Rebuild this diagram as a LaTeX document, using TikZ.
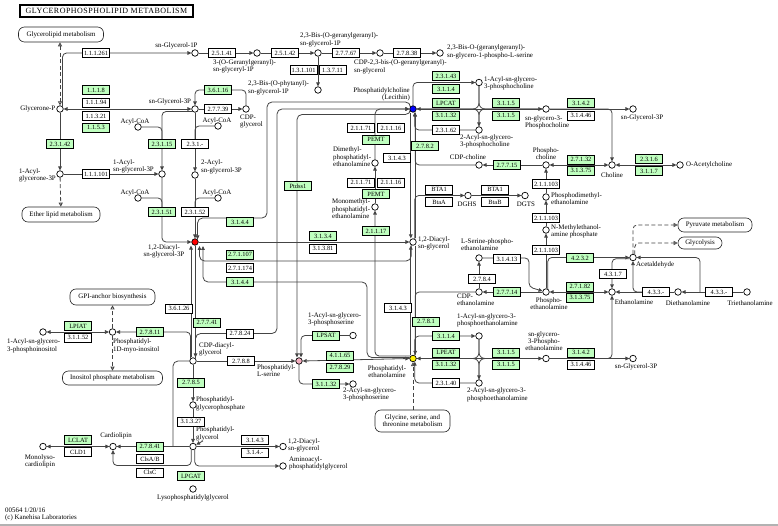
\documentclass[tikz,border=0pt]{standalone}
\usepackage{fontspec}
\setmainfont{Liberation Serif}
\usetikzlibrary{arrows.meta}
\definecolor{kg}{HTML}{BFFFBF}
\definecolor{kl}{HTML}{444444}
\definecolor{kpink}{HTML}{F4AFC0}
\newcommand\ecfont{\fontsize{6.4}{6.4}\selectfont}
\newcommand\lbfont{\fontsize{6.9}{7.2}\selectfont}
\newcommand\ttlfont{\fontsize{8}{8}\selectfont\addfontfeature{LetterSpace=6}}
\pgfdeclarelayer{bg}
\pgfsetlayers{bg,main}
\tikzset{
 ec/.style={draw=black, line width=0.6pt, fill=white, minimum width=27pt, minimum height=9pt, inner sep=0pt, font=\ecfont},
 eg/.style={ec, fill=kg},
 cpd/.style={circle, draw=black, line width=0.7pt, fill=white, minimum size=6.5pt, inner sep=0pt},
 lb/.style={font=\lbfont, inner sep=0pt, align=center},
 lbl/.style={lb, align=left},
 lbr/.style={lb, align=right},
 mapbox/.style={draw=black!85, line width=0.6pt, rounded corners=6pt, fill=white, font=\lbfont, inner sep=0pt, align=center},
 ln/.style={draw=kl, line width=0.8pt},
 ar/.style={-{Triangle[length=4pt,width=3.6pt]}},
 ar2/.style={{Triangle[length=4pt,width=3.6pt]}-{Triangle[length=4pt,width=3.6pt]}},
 oar/.style={-{Triangle[open,length=4pt,width=4pt]}},
 oar2/.style={{Triangle[open,length=4pt,width=4pt]}-{Triangle[open,length=4pt,width=4pt]}},
 dsh/.style={ln, dash pattern=on 4pt off 2.5pt},
 rc/.style={rounded corners=4pt},
}
\begin{document}
\begin{tikzpicture}[x=1pt,y=-1pt]
\useasboundingbox (0,0) rectangle (778,526);

% ---------------- title and map boxes
\node[draw, line width=1.1pt, minimum width=173pt, minimum height=12pt, inner sep=0pt, font=\ttlfont] (title) at (106.5,11) {GLYCEROPHOSPHOLIPID METABOLISM};
\node[mapbox, minimum width=85pt, minimum height=15pt] (glmap) at (61,34.5) {Glycerolipid metabolism};
\node[mapbox, minimum width=78pt, minimum height=15pt] (ethmap) at (61,214.5) {Ether lipid metabolism};
\node[mapbox, minimum width=85pt, minimum height=16pt] (gpimap) at (112.5,297) {GPI-anchor biosynthesis};
\node[mapbox, minimum width=100pt, minimum height=14pt] (inomap) at (112.5,378) {Inositol phosphate metabolism};
\node[mapbox, minimum width=75pt, minimum height=22pt] (glymap) at (412.5,421) {Glycine, serine, and\\threonine metabolism};
\node[mapbox, minimum width=74pt, minimum height=14pt] (pyrmap) at (715,225) {Pyruvate metabolism};
\node[mapbox, minimum width=44pt, minimum height=12pt] (glcmap) at (700,243) {Glycolysis};

% ---------------- compounds
\node[cpd] (glyP) at (60,109) {};
\node[cpd] (sng1p) at (195,53) {};
\node[cpd] (ggg1p) at (257,53) {};
\node[cpd] (bgg) at (318,53) {};
\node[cpd] (bph) at (318,90) {};
\node[cpd] (cdpgg) at (380,53) {};
\node[cpd] (ggs) at (440,53) {};
\node[cpd] (sng3p) at (195,109) {};
\node[cpd] (cdpgly) at (246,109) {};
\node[cpd] (acoa1) at (138,127) {};
\node[cpd] (acoa2) at (218,126) {};
\node[cpd] (acyl1) at (60,174) {};
\node[cpd] (acylg3p) at (162,174) {};
\node[cpd] (acyl2g3p) at (195,175) {};
\node[cpd] (acoa3) at (138,198) {};
\node[cpd] (acoa4) at (218,198) {};
\node[cpd, fill=red] (pa) at (195,242) {};
\node[cpd] (cdpdag) at (193,361) {};
\node[cpd] (pgp) at (193,405) {};
\node[cpd] (pg) at (193,446.5) {};
\node[cpd] (lpg) at (193,489) {};
\node[cpd] (cl) at (113,446.5) {};
\node[cpd] (mlcl) at (43,446.5) {};
\node[cpd] (ptdins) at (112.5,332) {};
\node[cpd] (lysopi) at (43,332) {};
\node[cpd] (dag2) at (283,446.5) {};
\node[cpd] (aapg) at (283,466) {};
\node[cpd, fill=kpink] (ps) at (299,361) {};
\node[cpd] (lps1) at (353,335.5) {};
\node[cpd] (lps2) at (353,384) {};
\node[cpd, fill=yellow] (pe) at (413,358.5) {};
\node[cpd] (lpe1) at (479,336) {};
\node[cpd] (lpe2) at (479,383) {};
\node[cpd] (gpe) at (546,358.5) {};
\node[cpd] (g3p3) at (633,358.5) {};
\node[cpd] (dag) at (413,242) {};
\node[cpd, fill=blue] (pc) at (413,109) {};
\node[cpd] (lpc1) at (479,82.5) {};
\node[cpd] (lpc2) at (479,130) {};
\node[cpd] (gpc) at (546,109) {};
\node[cpd] (g3p2) at (633,109) {};
\node[cpd] (cho) at (612,165) {};
\node[cpd] (ach) at (680,165) {};
\node[cpd] (pcho) at (546,165) {};
\node[cpd] (cdpcho) at (479,165) {};
\node[cpd] (dme) at (375,163) {};
\node[cpd] (mme) at (375,207) {};
\node[cpd] (dghs) at (468,195.5) {};
\node[cpd] (dgts) at (525,195.5) {};
\node[cpd] (pdme) at (546,197) {};
\node[cpd] (pmme) at (546,230) {};
\node[cpd] (pet) at (546,292) {};
\node[cpd] (lsp) at (479,258) {};
\node[cpd] (cdpe) at (479,292) {};
\node[cpd] (acet) at (633,257.5) {};
\node[cpd] (eta) at (612,292) {};
\node[cpd] (deta) at (678,292) {};
\node[cpd] (teta) at (747,292) {};
\coordinate (j31413) at (529,287);
\coordinate (jteta) at (700,292);
\coordinate (jdeta) at (642,292);
\coordinate (jcl) at (173,446.5);
\coordinate (jpa1) at (199.5,246);
\coordinate (jpa2) at (203,246);
\coordinate (jpca) at (267,102);

% ---------------- enzymes
\node[ec] (e111261) at (96,53) {1.1.1.261};
\node[ec] (e25141) at (222,53) {2.5.1.41};
\node[ec] (e25142) at (285,53) {2.5.1.42};
\node[ec] (e131101) at (303.5,70) {1.3.1.101};
\node[ec] (e13711) at (332.5,70) {1.3.7.11};
\node[ec] (e27767) at (346,53) {2.7.7.67};
\node[ec] (e27838) at (407,53) {2.7.8.38};
\node[eg] (e1118) at (96,90) {1.1.1.8};
\node[ec] (e11194) at (96,102.5) {1.1.1.94};
\node[ec] (e11321) at (96,116) {1.1.3.21};
\node[eg] (e1153) at (96,127.5) {1.1.5.3};
\node[eg] (e36116) at (218,90) {3.6.1.16};
\node[ec] (e27739) at (218,109) {2.7.7.39};
\node[eg] (e23142) at (60,144) {2.3.1.42};
\node[eg] (e23115) at (162,144) {2.3.1.15};
\node[ec] (e231x) at (195,144) {2.3.1.-};
\node[ec] (e111101) at (96,174) {1.1.1.101};
\node[eg] (e23151) at (162,212) {2.3.1.51};
\node[ec] (e23152) at (195,212) {2.3.1.52};
\node[eg] (e3144a) at (240,222) {3.1.4.4};
\node[eg] (eptdss) at (298,186) {Ptdss1};
\node[ec] (e21171a) at (361,128) {2.1.1.71};
\node[ec] (e21116a) at (391,128) {2.1.1.16};
\node[eg] (epemta) at (376,139.5) {PEMT};
\node[ec] (e21171b) at (361,182.5) {2.1.1.71};
\node[ec] (e21116b) at (391,182.5) {2.1.1.16};
\node[eg] (epemtb) at (376,194) {PEMT};
\node[eg] (e21117) at (376,231) {2.1.1.17};
\node[ec] (e3143a) at (397,158) {3.1.4.3};
\node[eg] (e2782) at (425,146) {2.7.8.2};
\node[eg] (e23143) at (446,76) {2.3.1.43};
\node[eg] (e3114a) at (446,89) {3.1.1.4};
\node[eg] (elpcat) at (446,103) {LPCAT};
\node[eg] (e31132a) at (446,115.5) {3.1.1.32};
\node[ec] (e23162) at (446,130) {2.3.1.62};
\node[eg] (e3115a) at (506,103) {3.1.1.5};
\node[eg] (e3115b) at (506,115.5) {3.1.1.5};
\node[eg] (e3142a) at (581,103) {3.1.4.2};
\node[ec] (e31446a) at (581,115.5) {3.1.4.46};
\node[eg] (e27715) at (507,165) {2.7.7.15};
\node[eg] (e27132) at (581,159.5) {2.7.1.32};
\node[eg] (e31375a) at (581,170.5) {3.1.3.75};
\node[eg] (e2316) at (649,159) {2.3.1.6};
\node[eg] (e3117) at (649,171) {3.1.1.7};
\node[ec] (ebta1a) at (439,189.5) {BTA1};
\node[ec] (ebtaa) at (439,202) {BtaA};
\node[ec] (ebta1b) at (495,189.5) {BTA1};
\node[ec] (ebtab) at (495,202) {BtaB};
\node[ec] (e211103a) at (546,184) {2.1.1.103};
\node[ec] (e211103b) at (546,218) {2.1.1.103};
\node[ec] (e211103c) at (546,250) {2.1.1.103};
\node[eg] (e3134) at (323,236) {3.1.3.4};
\node[ec] (e31381) at (323,248.5) {3.1.3.81};
\node[eg] (e271107) at (240,254.5) {2.7.1.107};
\node[ec] (e271174) at (240,268) {2.7.1.174};
\node[eg] (e3144b) at (240,282) {3.1.4.4};
\node[ec] (e31413) at (507,259) {3.1.4.13};
\node[ec] (e2784) at (482,279) {2.7.8.4};
\node[eg] (e27714) at (507,292) {2.7.7.14};
\node[eg] (e4232) at (580,258) {4.2.3.2};
\node[ec] (e4317) at (613,274) {4.3.1.7};
\node[eg] (e27182) at (580,286.5) {2.7.1.82};
\node[eg] (e31375b) at (580,297.5) {3.1.3.75};
\node[ec] (e433a) at (656,292) {4.3.3.-};
\node[ec] (e433b) at (719,292) {4.3.3.-};
\node[ec] (e3143b) at (398,308) {3.1.4.3};
\node[eg] (e2781) at (426,321.5) {2.7.8.1};
\node[eg] (e3114b) at (446,336) {3.1.1.4};
\node[eg] (elpeat) at (446,352.5) {LPEAT};
\node[eg] (e31132b) at (446,364.5) {3.1.1.32};
\node[ec] (e23140) at (446,383) {2.3.1.40};
\node[eg] (e3115c) at (506,352.5) {3.1.1.5};
\node[eg] (e3115d) at (506,364.5) {3.1.1.5};
\node[eg] (e3142b) at (581,352.5) {3.1.4.2};
\node[ec] (e31446b) at (581,364.5) {3.1.4.46};
\node[eg] (elpsat) at (326,335.5) {LPSAT};
\node[eg] (e41165) at (340,355.5) {4.1.1.65};
\node[eg] (e27829) at (340,367.5) {2.7.8.29};
\node[eg] (e31132c) at (326,384) {3.1.1.32};
\node[ec] (e2788) at (241,361) {2.7.8.8};
\node[ec] (e27824) at (240,333.5) {2.7.8.24};
\node[eg] (e27741) at (207,322.5) {2.7.7.41};
\node[ec] (e36126) at (179,308.5) {3.6.1.26};
\node[eg] (e27811) at (150,332) {2.7.8.11};
\node[eg] (elpiat) at (78,326) {LPIAT};
\node[ec] (e31152) at (78,337.5) {3.1.1.52};
\node[eg] (e2785) at (191,382.5) {2.7.8.5};
\node[ec] (e31327) at (191,421.5) {3.1.3.27};
\node[eg] (e27841) at (150,446.5) {2.7.8.41};
\node[ec] (eclsab) at (150,459) {ClsA/B};
\node[ec] (eclsc) at (150,472.5) {ClsC};
\node[eg] (elclat) at (78,440) {LCLAT};
\node[ec] (ecld1) at (78,452) {CLD1};
\node[eg] (elpgat) at (191,476) {LPGAT};
\node[ec] (e3143c) at (255,440) {3.1.4.3};
\node[ec] (e314x) at (255,452.5) {3.1.4.-};

% ---------------- labels
\node[lb] (lsng1p) at (176.5,45.5) {sn-Glycerol-1P};
\node[lbl, anchor=north west] (lggg1p) at (213,59.5) {3-(O-Geranylgeranyl)-\\sn-glyceryl-1P};
\node[lbl, anchor=north west] (lbgg) at (300,33) {2,3-Bis-(O-geranylgeranyl)-\\sn-glycerol-1P};
\node[lbl, anchor=north west] (lbph) at (248,81) {2,3-Bis-(O-phytanyl)-\\sn-glycerol-1P};
\node[lbl, anchor=north west] (lcdpgg) at (354,60) {CDP-2,3-bis-(O-geranylgeranyl)-\\sn-glycerol};
\node[lbl, anchor=north west] (lggs) at (447,45) {2,3-Bis-O-(geranylgeranyl)-\\sn-glycero-1-phospho-L-serine};
\node[lb] (lsng3p) at (170,102) {sn-Glycerol-3P};
\node[lb, anchor=east] (lglyP) at (55.5,109) {Glycerone-P};
\node[lb] (lacoa1) at (135,121.5) {Acyl-CoA};
\node[lb] (lacoa2) at (217,120.5) {Acyl-CoA};
\node[lbl, anchor=north west] (lcdpgly) at (240,114.5) {CDP-\\glycerol};
\node[lbl, anchor=east] (lacyl1) at (56,175) {1-Acyl-\\glycerone-3P};
\node[lbl, anchor=north west] (lacylg3p) at (113,159.5) {1-Acyl-\\sn-glycerol-3P};
\node[lbl, anchor=north west] (lacyl2g3p) at (201,160) {2-Acyl-\\sn-glycerol-3P};
\node[lb] (lacoa3) at (135,192.5) {Acyl-CoA};
\node[lb] (lacoa4) at (217,192.5) {Acyl-CoA};
\node[lb] (lpa) at (164,251) {1,2-Diacyl-\\sn-glycerol-3P};
\node[lbr, anchor=south east] (lpc) at (410,101.5) {Phosphatidylcholine\\(Lecithin)};
\node[lbl, anchor=north west] (ldme) at (333,147) {Dimethyl-\\phosphatidyl-\\ethanolamine};
\node[lbl, anchor=north west] (lmme) at (332,199) {Monomethyl-\\phosphatidyl-\\ethanolamine};
\node[lbl, anchor=west] (llpc1) at (484,83) {1-Acyl-sn-glycero-\\3-phosphocholine};
\node[lbl, anchor=north west] (llpc2) at (460,134.5) {2-Acyl-sn-glycero-\\3-phosphocholine};
\node[lbl, anchor=north west] (lgpc) at (525,115.5) {sn-glycero-3-\\Phosphocholine};
\node[lb] (lg3p2) at (642,117.5) {sn-Glycerol-3P};
\node[lb] (lcho) at (612,175) {Choline};
\node[lb, anchor=west] (lach) at (686,165) {O-Acetylcholine};
\node[lb] (lpcho) at (546,154) {Phospho-\\choline};
\node[lb] (lcdpcho) at (468,157.5) {CDP-choline};
\node[lb] (ldghs) at (467,204) {DGHS};
\node[lb] (ldgts) at (526,204) {DGTS};
\node[lbl, anchor=west] (lpdme) at (551,198.5) {Phosphodimethyl-\\ethanolamine};
\node[lbl, anchor=west] (lpmme) at (551,231.5) {N-Methylethanol-\\amine phosphate};
\node[lb] (lpet) at (549,304) {Phospho-\\ethanolamine};
\node[lbl, anchor=north west] (llsp) at (461,238.5) {L-Serine-phospho-\\ethanolamine};
\node[lbl, anchor=north west] (lcdpe) at (457,293.5) {CDP-\\ethanolamine};
\node[lbl, anchor=north west] (ldag) at (418,236.5) {1,2-Diacyl-\\sn-glycerol};
\node[lb, anchor=west] (lacet) at (636,265) {Acetaldehyde};
\node[lb] (leta) at (634,302.5) {Ethanolamine};
\node[lb] (ldeta) at (688,303) {Diethanolamine};
\node[lb] (lteta) at (750,303) {Triethanolamine};
\node[lbl, anchor=north west] (llpe1) at (457,313.5) {1-Acyl-sn-glycero-3-\\phosphoethanolamine};
\node[lbl, anchor=north west] (llpe2) at (467,388) {2-Acyl-sn-glycero-3-\\phosphoethanolamine};
\node[lb] (lgpe) at (544,341) {sn-glycero-\\3-Phospho-\\ethanolamine};
\node[lb] (lg3p3) at (636,366.5) {sn-Glycerol-3P};
\node[lb] (lpe) at (387,371.5) {Phosphatidyl-\\ethanolamine};
\node[lbl, anchor=north west] (lps) at (257,364.5) {Phosphatidyl-\\L-serine};
\node[lbl, anchor=north west] (llps1) at (308,312.5) {1-Acyl-sn-glycero-\\3-phosphoserine};
\node[lbl, anchor=north west] (llps2) at (343,387.5) {2-Acyl-sn-glycero-\\3-phosphoserine};
\node[lbl, anchor=north west] (lcdpdag) at (199,342.5) {CDP-diacyl-\\glycerol};
\node[lbl, anchor=north west] (lptdins) at (113,339) {Phosphatidyl-\\1D-myo-inositol};
\node[lbl, anchor=north west] (llysopi) at (7,339) {1-Acyl-sn-glycero-\\3-phosphoinositol};
\node[lbl, anchor=north west] (lpgp) at (196,397) {Phosphatidyl-\\glycerophosphate};
\node[lbl, anchor=north west] (lpg) at (196,427) {Phosphatidyl-\\glycerol};
\node[lb] (llpg) at (193,497.5) {Lysophosphatidylglycerol};
\node[lb] (lcl) at (116,435.5) {Cardiolipin};
\node[lb] (lmlcl) at (40,461.5) {Monolyso-\\cardiolipin};
\node[lbl, anchor=north west] (ldag2) at (288,438.5) {1,2-Diacyl-\\sn-glycerol};
\node[lbl, anchor=north west] (laapg) at (289,456.5) {Aminoacyl-\\phosphatidylglycerol};
\node[lbl, anchor=north west] (lfoot) at (5,508) {00564 1/20/16\\(c) Kanehisa Laboratories};

% ---------------- connectors (behind nodes)
\begin{pgfonlayer}{bg}
\fill[white] (0,0) rectangle (778,526);
\draw[black!30, line width=2pt] (0,524.5) -- (778,524.5);
% top chain
\draw[ln,ar,rc] (glyP.north east) |- (sng1p.west);
\draw[ln,ar] (sng1p) -- (ggg1p);
\draw[ln,ar] (ggg1p) -- (bgg);
\draw[ln,ar] (bgg) -- (bph);
\draw[ln,ar] (bgg) -- (cdpgg);
\draw[ln,ar] (cdpgg) -- (ggs);
\draw[dsh,oar2] (glmap.south -| glyP) -- (glyP);
\draw[ln,ar2] (sng3p) -- (glyP);
\draw[ln,ar] (glyP) -- (acyl1);
\draw[ln,ar] (acyl1) -- (acylg3p);
\draw[dsh,oar] (acyl1) -- (ethmap);
\draw[ln,ar,rc] (sng3p.south west) -| (acylg3p);
\draw[ln,rc] (acoa1.east) -| (e23115.north);
\draw[ln,ar] (sng3p) -- (acyl2g3p);
\draw[ln,rc] (acoa2.west) -| (e231x.north);
\draw[ln,ar] (sng3p) -- (cdpgly);
\draw[ln,ar,rc] (cdpgly) |- (e36116) -| (sng3p);
\draw[ln,ar,rc] (acylg3p) |- (pa.west);
\draw[ln,rc] (acoa3.east) -| (e23151.north);
\draw[ln,ar] (acyl2g3p) -- (pa);
\draw[ln,rc] (acoa4.west) -| (e23152.north);
% PC -> PA, CDP-DAG -> PC, PC -> PS
\draw[ln,ar,rounded corners=5pt] (pc.north west) |- (jpca) -- (267,218) -| (pa.north east);
\draw[ln,ar,rounded corners=5pt] (cdpdag.north east) |- (277,333.5) |- (pc.west);
\draw[ln,ar,rounded corners=5pt] (pc.south west) |- (297,114.5) -- ([xshift=-2pt]ps.north);
% PEMT chain
\draw[ln,ar,rc] (pe.135) -| (mme.south);
\draw[ln,ar] (mme) -- (dme);
\draw[ln,ar,rounded corners=5pt] (dme) |- (pc.west);
% PC right side
\draw[ln,ar,rc] (pc.north) |- (lpc1.west);
\draw[ln,ar2] (pc.east) -- (gpc.west);
\draw[ln,rounded corners=6pt] (lpc1.south) |- (pc.east);
\draw[ln,rounded corners=6pt] (lpc1.south) |- (gpc.west);
\draw[ln,ar,rounded corners=6pt] (pc.east) -| (lpc2.north);
\draw[ln,rounded corners=6pt] (lpc2.north) |- (gpc.west);
\draw[ln,ar,rc] (lpc2.west) -| (pc.-60);
% PC <-> DAG
\draw[ln,ar] ([xshift=-2.2pt]pc.south) -- ([xshift=-2.2pt]pc.south |- dag.north);
\draw[ln,ar] ([xshift=2.2pt]pc.south |- dag.north) -- ([xshift=2.2pt]pc.south);
\draw[ln,rc] (cdpcho.west) -| ([xshift=2.2pt]pc.south);
% PA <-> DAG
\draw[ln,ar] (pa.east) -- (dag.west);
\draw[ln,ar,rounded corners=5pt] (dag.-120) |- (199.5,261) -- (jpa1);
\draw[ln,ar,rounded corners=5pt] (pe.165) -| (367,282) -| (jpa2);
% DAG <-> PE
\draw[ln,ar] ([xshift=-2.2pt]pe.north) -- ([xshift=-2.2pt]pe.north |- dag.south);
\draw[ln,ar] ([xshift=2.2pt]pe.north |- dag.south) -- ([xshift=2.2pt]pe.north);
\draw[ln,rc] (cdpe.west) -| ([xshift=2.2pt]pe.north);
% PE right side
\draw[ln,ar,rc] (pe.60) |- (lpe1.west);
\draw[ln,ar2] (pe.east) -- (gpe.west);
\draw[ln,rounded corners=6pt] (lpe1.south) |- (pe.east);
\draw[ln,rounded corners=6pt] (lpe1.south) |- (gpe.west);
\draw[ln,ar,rounded corners=6pt] (pe.east) -| (lpe2.north);
\draw[ln,rounded corners=6pt] (lpe2.north) |- (gpe.west);
\draw[ln,ar,rc] (lpe2.west) -| (pe.-60);
\draw[dsh,oar] (glymap.north -| pe) -- (pe);
% PS
\draw[ln,ar2] (ps.east) -- (pe.west);
\draw[ln,ar,rc] (lps1.west) -| ([xshift=2pt]ps.north);
\draw[ln,ar,rc] (ps.south) |- (lps2.west);
\draw[ln,ar] (cdpdag.east) -- (ps.west);
% PA <-> CDP-DAG, PI
\draw[ln,ar] ([xshift=-2pt]cdpdag.north) -- ([xshift=-2pt]cdpdag.north |- pa.south);
\draw[ln,ar] ([xshift=2.5pt]cdpdag.north |- pa.south) -- ([xshift=2.5pt]cdpdag.north);
\draw[ln,ar,rc] (cdpdag.north west) |- (ptdins.east);
\draw[ln,ar2] (ptdins.west) -- (lysopi.east);
\draw[dsh,oar] (ptdins) -- (gpimap);
\draw[dsh,oar] (ptdins) -- (inomap);
% PG, CL
\draw[ln,ar] (cdpdag) -- (pgp);
\draw[ln,ar] (pgp) -- (pg);
\draw[ln,ar] (pg) -- (cl);
\draw[ln,rounded corners=5pt] (cdpdag.west) -| (jcl);
\draw[ln,ar,rc] (pg.-120) |- (150,465.5) -| (cl.south);
\draw[ln,ar2] (cl) -- (mlcl);
\draw[ln,ar] (lpg) -- (pg);
\draw[ln,ar] (pg) -- (dag2);
\draw[ln,ar,rc] (pg.-60) |- (aapg.west);
% choline / ethanolamine
\draw[ln,ar] (gpc) -- (g3p2);
\draw[ln,ar,rc] (gpc.east) -| (cho.north);
\draw[ln,ar2] (cho) -- (pcho);
\draw[ln,ar2] (cho) -- (ach);
\draw[ln,ar] (pcho) -- (cdpcho);
\draw[ln,ar] (pet) -- (pmme);
\draw[ln,ar] (pmme) -- (pdme);
\draw[ln,ar] (pdme) -- (pcho);
\draw[ln,ar,rc] (dag.60) |- (dghs.west);
\draw[ln,ar] (dghs) -- (dgts);
\draw[ln,ar] (pet) -- (cdpe);
\draw[ln,ar] (cdpe) -- (lsp);
\draw[ln,ar,rc] (lsp.east) -| (j31413) -- (pet.165);
\draw[ln,ar,rc] (pet.60) |- (acet.west);
\draw[ln,ar2] (eta) -- (pet);
\draw[ln,ar] (gpe) -- (g3p3);
\draw[ln,ar,rc] (gpe.east) -| (eta.south);
\draw[ln,ar,rc] (acet.200) -| (eta.north);
\draw[ln,ar] (teta) -- (deta);
\draw[ln,ar] (deta) -- (eta);
\draw[ln,ar,rc] (jteta) |- (acet.east);
\draw[ln,ar,rc] (jdeta) -| (acet.south);
\draw[dsh,oar,rc] (acet.north) |- (pyrmap.west);
\draw[dsh,oar,rc] (acet.60) |- (glcmap.west);
\end{pgfonlayer}
\end{tikzpicture}
\end{document}
